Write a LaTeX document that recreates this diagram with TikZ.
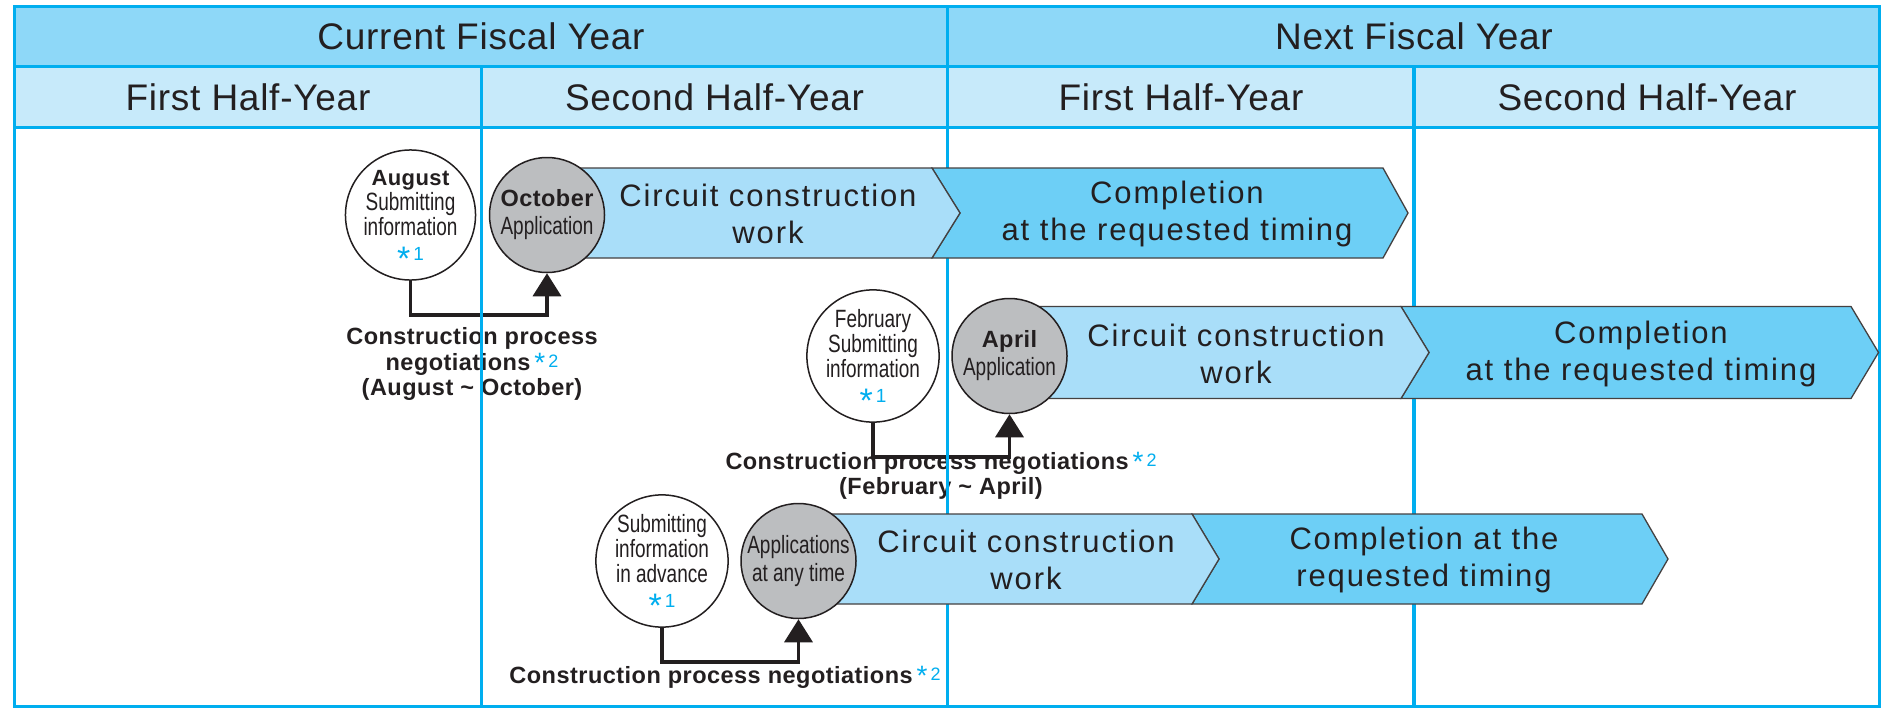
\documentclass[tikz,border=0pt]{standalone}
\usepackage{fontspec}
\setmainfont{Liberation Sans}[LetterSpace=2]
\newfontfamily\bandfont{Liberation Sans}[LetterSpace=6]
\newfontfamily\narrowfont{Liberation Sans}[FakeStretch=0.76]
\usetikzlibrary{arrows.meta}

\definecolor{gridcyan}{HTML}{00AEEF}
\definecolor{headdark}{HTML}{8ED8F8}
\definecolor{headlight}{HTML}{C7EAFA}
\definecolor{worklight}{HTML}{A9DEF9}
\definecolor{workdark}{HTML}{6DCFF6}
\definecolor{circgray}{HTML}{BCBEC0}
\definecolor{ink}{HTML}{231F20}

\pgfdeclarelayer{background}
\pgfsetlayers{background,main}

\newcommand{\mname}[2]{{\normalfont\bfseries\fontsize{#1}{#1}\selectfont #2}}
\newcommand{\noteone}{{\normalfont\color{gridcyan}\fontsize{19}{19}\selectfont\smash{\raisebox{-10pt}{\fontsize{34}{34}\selectfont *}}\,1}}
\newcommand{\notetwo}{\,\raisebox{3pt}{\color{gridcyan}\fontsize{18}{18}\selectfont\mdseries\smash{\raisebox{-5pt}{\fontsize{28}{28}\selectfont *}}\,2}}

\begin{document}
\begin{tikzpicture}[x=1pt,y=-1pt,
  grid/.style={draw=gridcyan,line width=3.3pt},
  head/.style={text=ink,font=\fontsize{37}{40}\selectfont},
  subm/.style={circle,draw=ink,line width=1.5pt,fill=white,minimum size=115pt,inner sep=0pt,align=center,text=ink,font=\narrowfont\fontsize{25}{25}\selectfont},
  appl/.style={subm,fill=circgray,font=\narrowfont\fontsize{25}{28}\selectfont},
  worka/.style={draw=ink!85,line width=1.3pt,fill=worklight},
  workb/.style={draw=ink!85,line width=1.3pt,fill=workdark},
  worktext/.style={align=center,text=ink,font=\bandfont\fontsize{31}{37}\selectfont},
  negot/.style={align=center,text=ink,font=\bfseries\fontsize{23.5}{25.5}\selectfont},
  link/.style={draw=ink,line width=3.5pt,-{Triangle[width=28pt,length=23pt]}}]

\useasboundingbox (0,0) rectangle (1882,709);

\begin{pgfonlayer}{background}
\fill [white] (0,0) rectangle (1882,709);
\fill [headdark] (14.5,6.5) rectangle (1879.5,66.5);
\fill [headlight] (14.5,66.5) rectangle (1879.5,127.5);
\end{pgfonlayer}

% table lines
\draw [grid] (14.5,6.5) rectangle (1879.5,706.5);
\draw [grid] (14.5,66.5) -- (1879.5,66.5);
\draw [grid] (14.5,127.5) -- (1879.5,127.5);
\draw [grid] (481.5,66.5) -- (481.5,706.5);
\draw [grid] (947.5,6.5) -- (947.5,706.5);
\draw [grid] (1414,66.5) -- (1414,706.5);

\node (cur) at (481,36.5) [head] {Current Fiscal Year};
\node (nxt) at (1414,36.5) [head] {Next Fiscal Year};
\node (cfirst) at (248,97) [head] {First Half-Year};
\node (csecond) at (714.5,97) [head] {Second Half-Year};
\node (nfirst) at (1181,97) [head] {First Half-Year};
\node (nsecond) at (1647,97) [head] {Second Half-Year};

% bands
\draw [workb] (932,168) -- (1383,168) -- (1408,213) -- (1383,258) -- (932,258) -- (960,213) -- cycle;
\draw [worka] (547,168) -- (932,168) -- (960,213) -- (932,258) -- (547,258) -- cycle;
\draw [workb] (1401,306.5) -- (1851,306.5) -- (1878.5,352.5) -- (1851,398.5) -- (1401,398.5) -- (1429,352.5) -- cycle;
\draw [worka] (1009,306.5) -- (1401,306.5) -- (1429,352.5) -- (1401,398.5) -- (1009,398.5) -- cycle;
\draw [workb] (1192,514) -- (1642,514) -- (1668,559) -- (1642,604) -- (1192,604) -- (1219,559) -- cycle;
\draw [worka] (798,514) -- (1192,514) -- (1219,559) -- (1192,604) -- (798,604) -- cycle;

\node (work1) at (768,214) [worktext] {Circuit construction\\work};
\node (done1) at (1177,214) [worktext] {Completion\\at the requested timing};
\node (work2) at (1236,353.5) [worktext] {Circuit construction\\work};
\node (done2) at (1641,353.5) [worktext] {Completion\\at the requested timing};
\node (work3) at (1026,560) [worktext] {Circuit construction\\work};
\node (done3) at (1424,560) [worktext] {Completion at the\\requested timing};

% circles
\node (aug) at (410.5,215) [subm] {\mname{22}{August}\\Submitting\\information\\\noteone};
\node (oct) at (547,215) [appl] {\mname{23.5}{October}\\Application};
\node (feb) at (873,356) [subm] {February\\Submitting\\information\\\noteone};
\node (apr) at (1009.5,356) [appl] {\mname{23.5}{April}\\Application};
\node (adv) at (662,561) [subm] {Submitting\\information\\in advance\\\noteone};
\node (any) at (798.5,561) [appl] {Applications\\at any time};

\begin{pgfonlayer}{background}
\draw [link] (aug.south) -- ++(0,34) -| (oct.south);
\draw [link] (feb.south) -- ++(0,34) -| (apr.south);
\draw [link] (adv.south) -- ++(0,34) -| (any.south);

\node (neg1) at (472,364) [negot] {Construction process\\negotiations\notetwo\\(August \textasciitilde{} October)};
\node (neg2) at (941,476) [negot] {Construction process negotiations\notetwo\\(February \textasciitilde{} April)};
\node (neg3) at (725,677) [negot] {Construction process negotiations\notetwo};
\end{pgfonlayer}

\end{tikzpicture}
\end{document}
